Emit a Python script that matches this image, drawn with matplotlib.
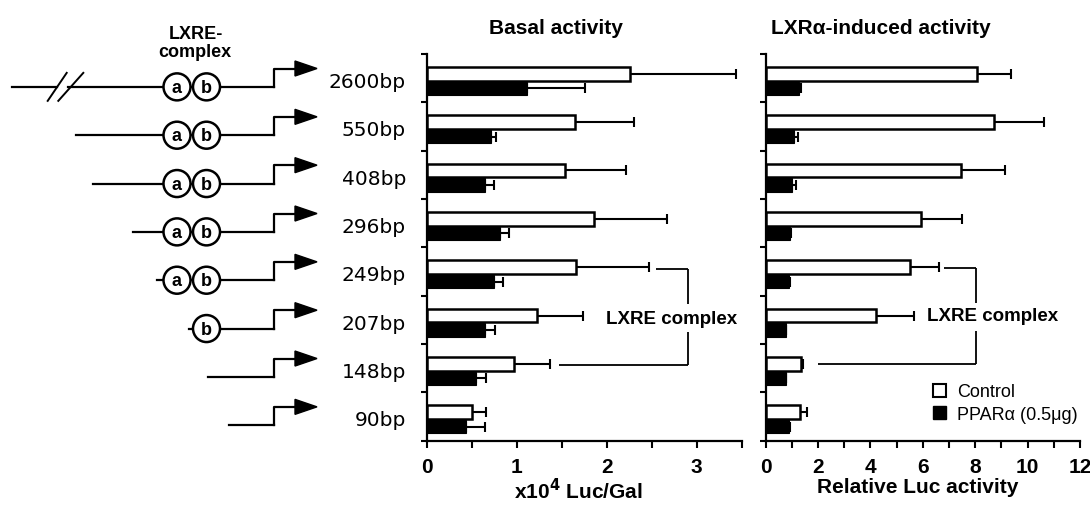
import matplotlib
matplotlib.use("Agg")
import matplotlib.pyplot as plt
import numpy as np
from matplotlib.patches import Polygon, Ellipse, Patch

plt.rcParams['font.family'] = ['Liberation Sans', 'DejaVu Sans']

# ---------------- data ----------------
constructs = ['2600bp', '550bp', '408bp', '296bp', '249bp', '207bp', '148bp', '90bp']
basal_ctrl = [2.26, 1.65, 1.53, 1.86, 1.66, 1.22, 0.97, 0.50]
basal_ctrl_err = [1.18, 0.65, 0.68, 0.81, 0.81, 0.52, 0.40, 0.16]
basal_ppar = [1.11, 0.71, 0.64, 0.81, 0.74, 0.64, 0.55, 0.43]
basal_ppar_err = [0.65, 0.06, 0.11, 0.10, 0.11, 0.12, 0.11, 0.21]
lxr_ctrl = [8.06, 8.73, 7.45, 5.92, 5.51, 4.21, 1.34, 1.31]
lxr_ctrl_err = [1.31, 1.91, 1.69, 1.59, 1.11, 1.45, 0.08, 0.28]
lxr_ppar = [1.28, 1.09, 1.02, 0.93, 0.89, 0.76, 0.76, 0.89]
lxr_ppar_err = [0.05, 0.15, 0.13, 0.05, 0.05, 0.03, 0.0, 0.05]
basal_ticks = [0, 1, 2, 3]
lxr_ticks = [0, 2, 4, 6, 8, 10, 12]
# promoter diagram: which LXRE elements each construct carries
has_a = [True, True, True, True, True, False, False, False]
has_b = [True, True, True, True, True, True, False, False]
line_start = [12, 76, 93, 133, 157, 189, 208, 229]   # left end of promoter line (diagram px)

W, H = 1090, 506
fig = plt.figure(figsize=(W / 100, H / 100), dpi=100)

ax_top, ax_bot = 55, 441.7
def rect(x0, x1):
    return [x0 / W, (H - ax_bot) / H, (x1 - x0) / W, (ax_bot - ax_top) / H]

n = len(constructs)
y = np.arange(n)
bh = 0.28
yc = y - 0.09
yp = y + 0.21

def panel(ax, ctrl, cerr, ppar, perr, xmax, ticks, minor, title, tx, xlabel, lx):
    ax.barh(yc, ctrl, height=bh, color='white', edgecolor='black', linewidth=1.8, zorder=3)
    ax.barh(yp, ppar, height=bh, color='black', edgecolor='black', linewidth=0.8, zorder=3)
    ax.errorbar(ctrl, yc, xerr=[np.zeros(n), cerr], fmt='none', ecolor='black',
                elinewidth=1.5, capsize=3.5, capthick=1.5, zorder=2)
    ax.errorbar(ppar, yp, xerr=[np.zeros(n), perr], fmt='none', ecolor='black',
                elinewidth=1.5, capsize=3.5, capthick=1.5, zorder=2)
    ax.set_xlim(0, xmax)
    ax.set_ylim(n - 0.5, -0.5)
    for s in ['top', 'right']:
        ax.spines[s].set_visible(False)
    for s in ['left', 'bottom']:
        ax.spines[s].set_linewidth(1.6)
    ax.set_yticks(np.arange(n + 1) - 0.5)
    ax.set_yticklabels([])
    ax.tick_params(axis='y', direction='out', length=4, width=1.5)
    ax.set_xticks(ticks)
    ax.set_xticks(minor, minor=True)
    ax.set_xticklabels([str(t) for t in ticks], fontsize=15, fontweight='bold')
    ax.tick_params(axis='x', which='both', direction='out', length=5, width=1.5, pad=7)
    ax.set_title(title, fontsize=15, fontweight='bold', pad=15, x=tx)
    ax.set_xlabel(xlabel, fontsize=15, fontweight='bold')
    ax.xaxis.set_label_coords(lx, -0.095)

ax1 = fig.add_axes(rect(427, 741.7))
panel(ax1, basal_ctrl, basal_ctrl_err, basal_ppar, basal_ppar_err, 3.5,
      basal_ticks, np.arange(0, 3.51, 0.5), 'Basal activity', 0.41,
      r'x10$^\mathbf{4}$ Luc/Gal', 0.48)

ax2 = fig.add_axes(rect(765.7, 1080))
panel(ax2, lxr_ctrl, lxr_ctrl_err, lxr_ppar, lxr_ppar_err, 12,
      lxr_ticks, np.arange(0, 12.1, 1), 'LXRα-induced activity', 0.367,
      'Relative Luc activity', 0.483)

# LXRE complex brackets
def bracket(ax, x_top, x_bot, x_v, y_top, y_bot, tx, ty):
    kw = dict(color='black', lw=1.3, solid_capstyle='butt')
    ax.plot([x_top, x_v], [y_top, y_top], **kw)
    ax.plot([x_bot, x_v], [y_bot, y_bot], **kw)
    ax.plot([x_v, x_v], [y_top, y_top + 0.73], **kw)
    ax.plot([x_v, x_v], [y_bot - 0.68, y_bot], **kw)
    ax.text(tx, ty, 'LXRE complex', fontsize=13.5, fontweight='bold', ha='center', va='center')

bracket(ax1, 2.55, 1.47, 2.90, 3.95, 5.93, 2.72, 4.98)
bracket(ax2, 6.81, 1.98, 8.03, 3.92, 5.92, 8.65, 4.91)

leg = ax2.legend(handles=[Patch(facecolor='white', edgecolor='black', linewidth=1.5, label='Control'),
                          Patch(facecolor='black', edgecolor='black', label='PPARα (0.5μg)')],
                 loc='upper left', bbox_to_anchor=(0.532, 0.148), frameon=False,
                 fontsize=13, handlelength=0.75, handleheight=0.75, handletextpad=0.6,
                 labelspacing=0.3, borderaxespad=0, borderpad=0)

# ---------------- promoter diagram ----------------
axd = fig.add_axes(rect(0, 420))
axd.set_xlim(0, 420)
axd.set_ylim(n - 0.5, -0.5)
axd.axis('off')
pxu = (ax_bot - ax_top) / n          # pixels per row unit
base_off, arrow_off = 0.18, -0.20
step_x, arrow_x0, arrow_x1 = 274, 295, 317
cx_a, cx_b, rad = 177, 206.5, 13.5
lw = 1.6
for i in range(n):
    yb = y[i] + base_off
    ya = y[i] + arrow_off
    if i == 0:
        axd.plot([line_start[i], 57], [yb, yb], color='black', lw=lw)
        axd.plot([68, step_x], [yb, yb], color='black', lw=lw)
        for x0, x1 in [(47.7, 66.7), (58.3, 83.3)]:
            axd.plot([x0, x1], [yb + 14 / pxu, yb - 14 / pxu], color='black', lw=1.4)
    else:
        axd.plot([line_start[i], step_x], [yb, yb], color='black', lw=lw)
    axd.plot([step_x, step_x, arrow_x0], [yb, ya, ya], color='black', lw=lw)
    axd.add_patch(Polygon([[arrow_x0, ya - 7.5 / pxu], [arrow_x1, ya], [arrow_x0, ya + 7.5 / pxu]],
                          closed=True, facecolor='black', edgecolor='black'))
    for present, cx, letter in [(has_a[i], cx_a, 'a'), (has_b[i], cx_b, 'b')]:
        if present:
            axd.add_patch(Ellipse((cx, yb), 2 * rad, 2 * rad / pxu, facecolor='white',
                                  edgecolor='black', lw=1.8, zorder=3))
            axd.text(cx, yb + 0.01, letter, fontsize=13, fontweight='bold',
                     ha='center', va='center', zorder=4)
    axd.text(406, y[i] + 0.07, constructs[i], fontsize=14.5, ha='right', va='center',
             family='DejaVu Sans')

axd.text(196, -0.5 - 20 / pxu, 'LXRE-', fontsize=13, fontweight='bold', ha='center', va='center', clip_on=False)
axd.text(195, -0.5 - 2 / pxu, 'complex', fontsize=13, fontweight='bold', ha='center', va='center', clip_on=False)

fig.savefig('out.png', dpi=100)
